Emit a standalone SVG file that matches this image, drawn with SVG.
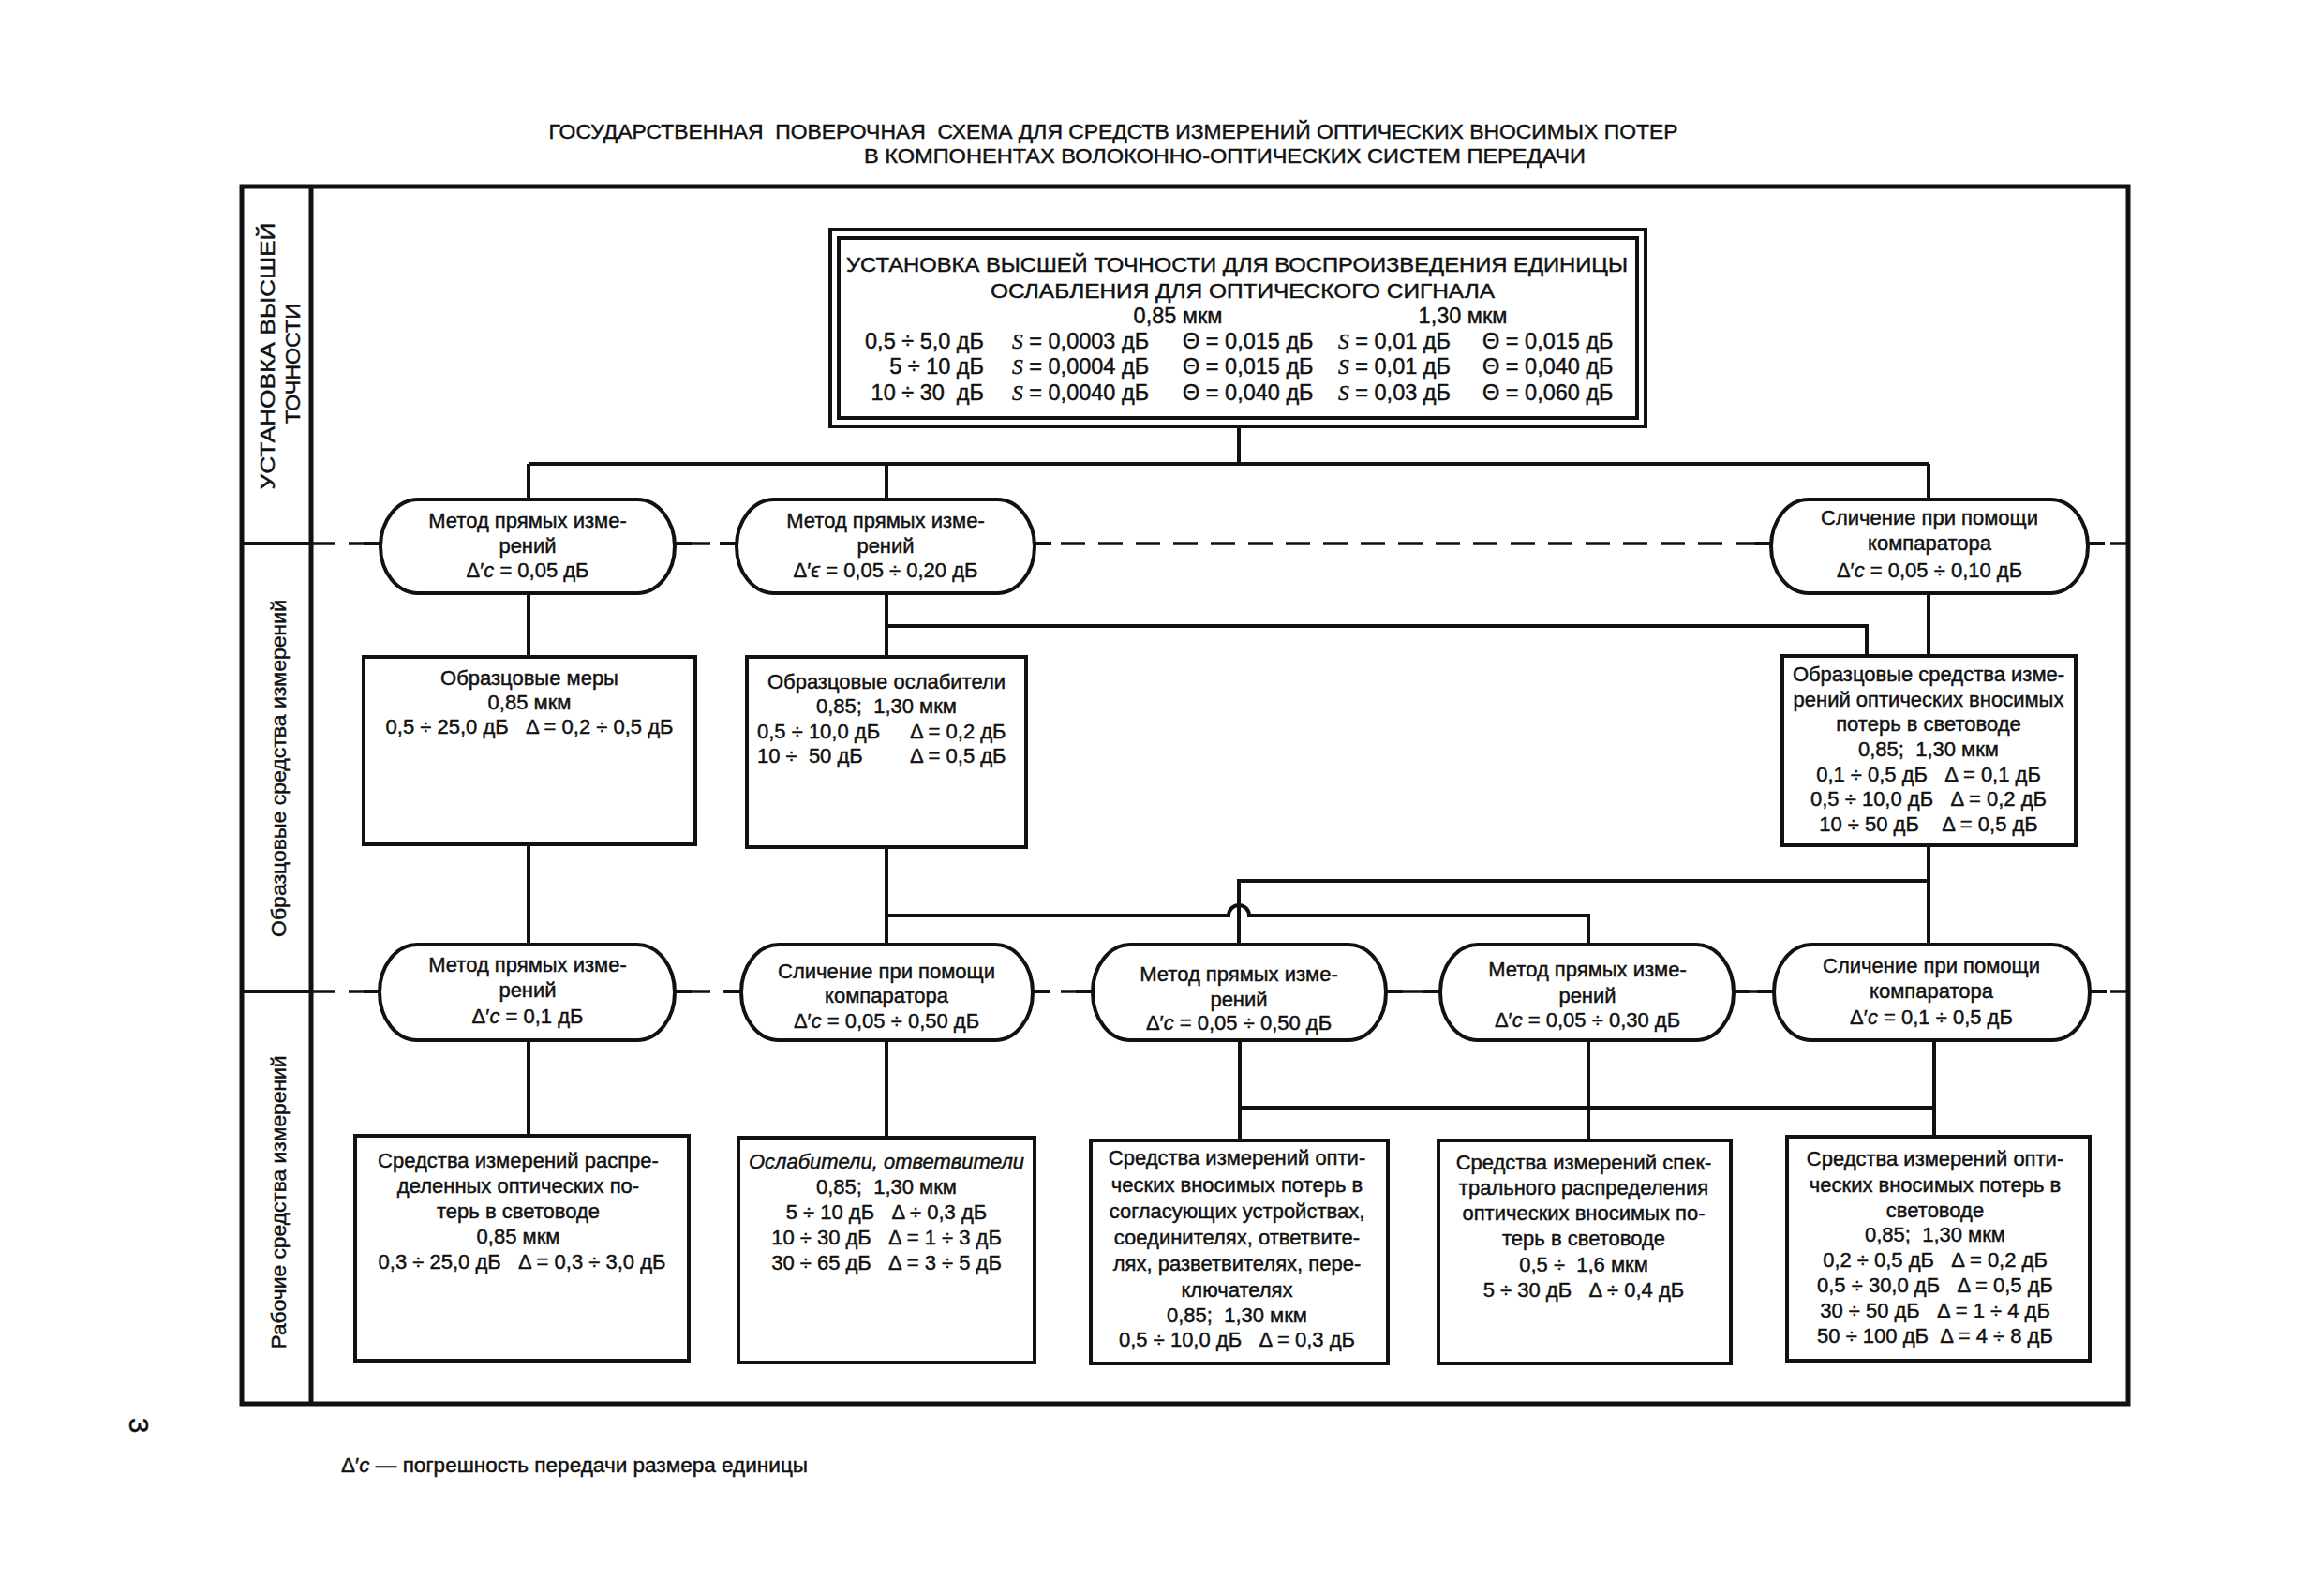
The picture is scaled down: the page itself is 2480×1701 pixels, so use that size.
<svg xmlns="http://www.w3.org/2000/svg" width="2480" height="1701" viewBox="0 0 2480 1701">
<style>
.t{font-family:"Liberation Sans",Arial,sans-serif;font-size:22px;fill:#111;stroke:#111;stroke-width:0.45;text-anchor:middle;white-space:pre}
.l{text-anchor:start}
.e{text-anchor:end}
.h{font-size:22px}
.r{font-size:23.5px}
.bx{fill:#fff;stroke:#111;stroke-width:4}
.ov{fill:#fff;stroke:#111;stroke-width:4}
.ln{fill:none;stroke:#111;stroke-width:4}
.ds{fill:none;stroke:#111;stroke-width:3.5;stroke-dasharray:26 14}
.fr{fill:none;stroke:#111;stroke-width:5}
.i{font-style:italic}
.s{font-family:"Liberation Serif",serif;font-style:italic}
</style>
<rect width="2480" height="1701" fill="#fff"/>
<g id="title">
<text class="t h" x="1188" y="148" textLength="1205" lengthAdjust="spacingAndGlyphs">ГОСУДАРСТВЕННАЯ  ПОВЕРОЧНАЯ  СХЕМА ДЛЯ СРЕДСТВ ИЗМЕРЕНИЙ ОПТИЧЕСКИХ ВНОСИМЫХ ПОТЕР</text>
<text class="t h" x="1307" y="174" textLength="770" lengthAdjust="spacingAndGlyphs">В КОМПОНЕНТАХ ВОЛОКОННО-ОПТИЧЕСКИХ СИСТЕМ ПЕРЕДАЧИ</text>
</g>
<g id="frame">
<rect class="fr" x="258" y="199" width="2013" height="1299"/>
<line class="fr" x1="332" y1="199" x2="332" y2="1498"/>
<line class="ln" x1="258" y1="580" x2="332" y2="580"/>
<line class="ln" x1="258" y1="1058" x2="332" y2="1058"/>
<text class="t h" transform="translate(293,380) rotate(-90)" textLength="285" lengthAdjust="spacingAndGlyphs">УСТАНОВКА ВЫСШЕЙ</text>
<text class="t h" transform="translate(320,388) rotate(-90)" textLength="128" lengthAdjust="spacingAndGlyphs">ТОЧНОСТИ</text>
<text class="t h" transform="translate(305,820) rotate(-90)" textLength="360" lengthAdjust="spacingAndGlyphs">Образцовые средства измерений</text>
<text class="t h" transform="translate(305,1283) rotate(-90)" textLength="313" lengthAdjust="spacingAndGlyphs">Рабочие средства измерений</text>
</g>
<g id="connectors">
<line class="ds" x1="332" y1="580" x2="2271" y2="580"/>
<line class="ds" x1="332" y1="1058" x2="2271" y2="1058"/>
<path class="ln" d="M388,580h18M720,580h18M768,580h18M1104,580h18M1872,580h18M2228,580h18"/>
<path class="ln" d="M388,1058h18M720,1058h18M773,1058h18M1102,1058h18M1148,1058h18M1479,1058h18M1519,1058h18M1850,1058h18M1875,1058h18M2230,1058h18"/>
<path class="ln" d="M1322,455V495M564,495H2058M564,495V533M946,495V533M2058,495V533"/>
<path class="ln" d="M564,633V701M946,633V701M946,668H1992V700M2058,633V700"/>
<path class="ln" d="M564,901V1008M946,904V1008M946,977H1311A11,11 0 0 1 1333,977H1695V1008M1322,1008V940H2058M2058,902V1008"/>
<path class="ln" d="M564,1110V1212M946,1110V1214M1323,1110V1217M1323,1182H2064M1695,1110V1217M2064,1110V1213"/>
</g>
<g id="n-top">
<rect class="bx" x="886" y="245" width="870" height="210"/>
<rect class="ln" x="895" y="254" width="852" height="192"/>
<text class="t h" x="1320" y="290" textLength="834" lengthAdjust="spacingAndGlyphs">УСТАНОВКА ВЫСШЕЙ ТОЧНОСТИ ДЛЯ ВОСПРОИЗВЕДЕНИЯ ЕДИНИЦЫ</text>
<text class="t h" x="1326" y="318" textLength="538" lengthAdjust="spacingAndGlyphs">ОСЛАБЛЕНИЯ ДЛЯ ОПТИЧЕСКОГО СИГНАЛА</text>
<text class="t r" x="1257" y="345">0,85 мкм</text>
<text class="t r" x="1561" y="345">1,30 мкм</text>
<text class="t r e" x="1050" y="372">0,5 ÷ 5,0 дБ</text>
<text class="t r l" x="1080" y="372"><tspan class="s">S</tspan> = 0,0003 дБ</text>
<text class="t r l" x="1262" y="372">Θ = 0,015 дБ</text>
<text class="t r l" x="1428" y="372"><tspan class="s">S</tspan> = 0,01 дБ</text>
<text class="t r l" x="1582" y="372">Θ = 0,015 дБ</text>
<text class="t r e" x="1050" y="399">5 ÷ 10 дБ</text>
<text class="t r l" x="1080" y="399"><tspan class="s">S</tspan> = 0,0004 дБ</text>
<text class="t r l" x="1262" y="399">Θ = 0,015 дБ</text>
<text class="t r l" x="1428" y="399"><tspan class="s">S</tspan> = 0,01 дБ</text>
<text class="t r l" x="1582" y="399">Θ = 0,040 дБ</text>
<text class="t r e" x="1050" y="427">10 ÷ 30  дБ</text>
<text class="t r l" x="1080" y="427"><tspan class="s">S</tspan> = 0,0040 дБ</text>
<text class="t r l" x="1262" y="427">Θ = 0,040 дБ</text>
<text class="t r l" x="1428" y="427"><tspan class="s">S</tspan> = 0,03 дБ</text>
<text class="t r l" x="1582" y="427">Θ = 0,060 дБ</text>
</g>
<g id="n-o2a">
<rect class="ov" x="406" y="533" width="314" height="100" rx="40" ry="50"/>
<text class="t" x="563" y="563">Метод прямых изме-</text>
<text class="t" x="563" y="590">рений</text>
<text class="t" x="563" y="616">Δ′<tspan class="i">c</tspan> = 0,05 дБ</text>
</g>
<g id="n-o2b">
<rect class="ov" x="786" y="533" width="318" height="100" rx="40" ry="50"/>
<text class="t" x="945" y="563">Метод прямых изме-</text>
<text class="t" x="945" y="590">рений</text>
<text class="t" x="945" y="616">Δ′<tspan class="i">ϵ</tspan> = 0,05 ÷ 0,20 дБ</text>
</g>
<g id="n-o2c">
<rect class="ov" x="1890" y="533" width="338" height="100" rx="40" ry="50"/>
<text class="t" x="2059" y="560">Сличение при помощи</text>
<text class="t" x="2059" y="587">компаратора</text>
<text class="t" x="2059" y="616">Δ′<tspan class="i">c</tspan> = 0,05 ÷ 0,10 дБ</text>
</g>
<g id="n-a">
<rect class="bx" x="388" y="701" width="354" height="200"/>
<text class="t" x="565" y="731">Образцовые меры</text>
<text class="t" x="565" y="757">0,85 мкм</text>
<text class="t" x="565" y="783">0,5 ÷ 25,0 дБ   Δ = 0,2 ÷ 0,5 дБ</text>
</g>
<g id="n-b">
<rect class="bx" x="797" y="701" width="298" height="203"/>
<text class="t" x="946" y="735">Образцовые ослабители</text>
<text class="t" x="946" y="761">0,85;  1,30 мкм</text>
<text class="t l" x="808" y="788">0,5 ÷ 10,0 дБ</text>
<text class="t l" x="971" y="788">Δ = 0,2 дБ</text>
<text class="t l" x="808" y="814">10 ÷  50 дБ</text>
<text class="t l" x="971" y="814">Δ = 0,5 дБ</text>
</g>
<g id="n-c">
<rect class="bx" x="1902" y="700" width="313" height="202"/>
<text class="t" x="2058" y="727">Образцовые средства изме-</text>
<text class="t" x="2058" y="754">рений оптических вносимых</text>
<text class="t" x="2058" y="780">потерь в световоде</text>
<text class="t" x="2058" y="807">0,85;  1,30 мкм</text>
<text class="t" x="2058" y="834">0,1 ÷ 0,5 дБ   Δ = 0,1 дБ</text>
<text class="t" x="2058" y="860">0,5 ÷ 10,0 дБ   Δ = 0,2 дБ</text>
<text class="t" x="2058" y="887">10 ÷ 50 дБ    Δ = 0,5 дБ</text>
</g>
<g id="n-o4a">
<rect class="ov" x="405" y="1008" width="315" height="102" rx="40" ry="51"/>
<text class="t" x="563" y="1037">Метод прямых изме-</text>
<text class="t" x="563" y="1064">рений</text>
<text class="t" x="563" y="1092">Δ′<tspan class="i">c</tspan> = 0,1 дБ</text>
</g>
<g id="n-o4b">
<rect class="ov" x="791" y="1008" width="311" height="102" rx="40" ry="51"/>
<text class="t" x="946" y="1044">Сличение при помощи</text>
<text class="t" x="946" y="1070">компаратора</text>
<text class="t" x="946" y="1097">Δ′<tspan class="i">c</tspan> = 0,05 ÷ 0,50 дБ</text>
</g>
<g id="n-o4c">
<rect class="ov" x="1166" y="1008" width="313" height="102" rx="40" ry="51"/>
<text class="t" x="1322" y="1047">Метод прямых изме-</text>
<text class="t" x="1322" y="1074">рений</text>
<text class="t" x="1322" y="1099">Δ′<tspan class="i">c</tspan> = 0,05 ÷ 0,50 дБ</text>
</g>
<g id="n-o4d">
<rect class="ov" x="1537" y="1008" width="313" height="102" rx="40" ry="51"/>
<text class="t" x="1694" y="1042">Метод прямых изме-</text>
<text class="t" x="1694" y="1070">рений</text>
<text class="t" x="1694" y="1096">Δ′<tspan class="i">c</tspan> = 0,05 ÷ 0,30 дБ</text>
</g>
<g id="n-o4e">
<rect class="ov" x="1893" y="1008" width="337" height="102" rx="40" ry="51"/>
<text class="t" x="2061" y="1038">Сличение при помощи</text>
<text class="t" x="2061" y="1065">компаратора</text>
<text class="t" x="2061" y="1093">Δ′<tspan class="i">c</tspan> = 0,1 ÷ 0,5 дБ</text>
</g>
<g id="n-d">
<rect class="bx" x="379" y="1212" width="356" height="240"/>
<text class="t" x="553" y="1246">Средства измерений распре-</text>
<text class="t" x="553" y="1273">деленных оптических по-</text>
<text class="t" x="553" y="1300">терь в световоде</text>
<text class="t" x="553" y="1327">0,85 мкм</text>
<text class="t" x="557" y="1354">0,3 ÷ 25,0 дБ   Δ = 0,3 ÷ 3,0 дБ</text>
</g>
<g id="n-e">
<rect class="bx" x="788" y="1214" width="316" height="240"/>
<text class="t i" x="946" y="1247">Ослабители, ответвители</text>
<text class="t" x="946" y="1274">0,85;  1,30 мкм</text>
<text class="t" x="946" y="1301">5 ÷ 10 дБ   Δ ÷ 0,3 дБ</text>
<text class="t" x="946" y="1328">10 ÷ 30 дБ   Δ = 1 ÷ 3 дБ</text>
<text class="t" x="946" y="1355">30 ÷ 65 дБ   Δ = 3 ÷ 5 дБ</text>
</g>
<g id="n-f">
<rect class="bx" x="1164" y="1217" width="317" height="238"/>
<text class="t" x="1320" y="1243">Средства измерений опти-</text>
<text class="t" x="1320" y="1272">ческих вносимых потерь в</text>
<text class="t" x="1320" y="1300">согласующих устройствах,</text>
<text class="t" x="1320" y="1328">соединителях, ответвите-</text>
<text class="t" x="1320" y="1356">лях, разветвителях, пере-</text>
<text class="t" x="1320" y="1384">ключателях</text>
<text class="t" x="1320" y="1411">0,85;  1,30 мкм</text>
<text class="t" x="1320" y="1437">0,5 ÷ 10,0 дБ   Δ = 0,3 дБ</text>
</g>
<g id="n-g">
<rect class="bx" x="1535" y="1217" width="312" height="238"/>
<text class="t" x="1690" y="1248">Средства измерений спек-</text>
<text class="t" x="1690" y="1275">трального распределения</text>
<text class="t" x="1690" y="1302">оптических вносимых по-</text>
<text class="t" x="1690" y="1329">терь в световоде</text>
<text class="t" x="1690" y="1357">0,5 ÷  1,6 мкм</text>
<text class="t" x="1690" y="1384">5 ÷ 30 дБ   Δ ÷ 0,4 дБ</text>
</g>
<g id="n-h">
<rect class="bx" x="1907" y="1213" width="323" height="239"/>
<text class="t" x="2065" y="1244">Средства измерений опти-</text>
<text class="t" x="2065" y="1272">ческих вносимых потерь в</text>
<text class="t" x="2065" y="1299">световоде</text>
<text class="t" x="2065" y="1325">0,85;  1,30 мкм</text>
<text class="t" x="2065" y="1352">0,2 ÷ 0,5 дБ   Δ = 0,2 дБ</text>
<text class="t" x="2065" y="1379">0,5 ÷ 30,0 дБ   Δ = 0,5 дБ</text>
<text class="t" x="2065" y="1406">30 ÷ 50 дБ   Δ = 1 ÷ 4 дБ</text>
<text class="t" x="2065" y="1433">50 ÷ 100 дБ  Δ = 4 ÷ 8 дБ</text>
</g>
<g id="footer">
<text class="t" transform="translate(138,1521) rotate(90)" style="font-size:30px">3</text>
<text class="t l" x="364" y="1571" style="font-size:22px" textLength="498" lengthAdjust="spacingAndGlyphs">Δ′<tspan class="i">c</tspan> — погрешность передачи размера единицы</text>
</g>
</svg>
